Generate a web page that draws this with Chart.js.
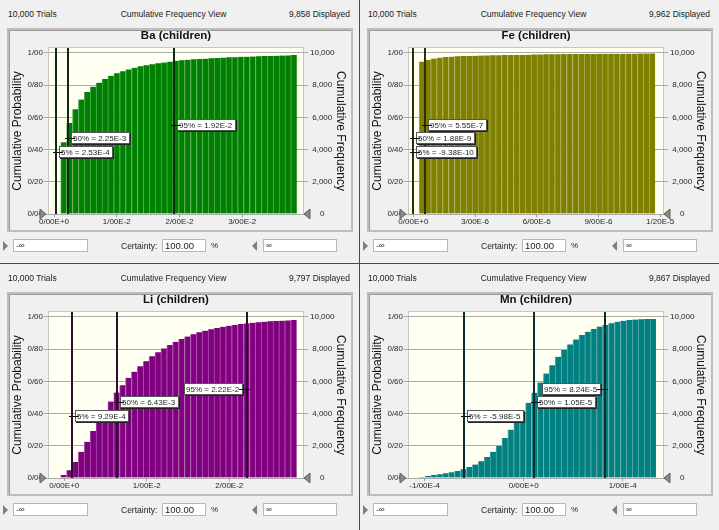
<!DOCTYPE html>
<html>
<head>
<meta charset="utf-8">
<title>Cumulative Frequency View</title>
<script src="https://cdn.jsdelivr.net/npm/chart.js@4.4.1/dist/chart.umd.min.js"></script>
<style>
  body { margin: 0; background: #4a4a4a; }
  #wrap { position: relative; width: 719px; height: 530px; overflow: hidden; background: #4a4a4a; }
  .panel { position: absolute; width: 359px; height: 263px; background: #f0f0f0;
           font-family: "Liberation Sans", Arial, sans-serif; color: #1a1a1a; }
  .panel.low { height: 266px; }
  .panel canvas { position: absolute; left: 0; top: 0; }
  .hdr { position: absolute; top: 8px; font-size: 8.5px; line-height: 12px; white-space: nowrap; }
  .hdr.l { left: 8px; }
  .hdr.c { left: 0; width: 347px; text-align: center; }
  .hdr.r { right: 9px; }
  .frame { position: absolute; left: 7px; top: 28px; width: 342px; height: 200px;
           border: 2px solid #bdbdbd; box-shadow: inset 1px 1px 0 #9a9a9a; }
  .grip { position: absolute; top: 241px; width: 0; height: 0;
          border-top: 5px solid transparent; border-bottom: 5px solid transparent; }
  .grip.l { left: 3px; border-left: 5px solid #7f7f7f; }
  .grip.r { left: 252px; border-right: 5px solid #7f7f7f; }
  .inp { position: absolute; top: 239px; height: 11px; background: #fff; border: 1px solid #b8b8b8;
         font-size: 8px; line-height: 11px; padding-left: 2px; white-space: nowrap; }
  .inp.a { left: 13px; width: 71px; }
  .inp.b { left: 162px; width: 40px; font-size: 9.5px; }
  .inp.c { left: 263px; width: 70px; }
  .txt { position: absolute; top: 240px; font-size: 8.5px; line-height: 12px; }
  .txt.cert { left: 121px; }
  .txt.pct { left: 211px; font-size: 8px; }
</style>
</head>
<body>
<div id="wrap"></div>
<script>
// shared axis ticks
const trialsLabel = '10,000 Trials';
const viewLabel = 'Cumulative Frequency View';
const trials = 10000;
const probTicks = [0, 0.2, 0.4, 0.6, 0.8, 1];
const probTickLabels = ['0/00', '0/20', '0/40', '0/60', '0/80', '1/00'];
const freqTicks = [0, 2000, 4000, 6000, 8000, 10000];
const freqTickLabels = ['0', '2,000', '4,000', '6,000', '8,000', '10,000'];
const pctNames = ['5%', '50%', '95%'];

// Ba (children)
const baDisplayed = '9,858';
const baBinStart = 0.00107;
const baBinWidth = 0.000941;
const baCumProb = [0.445, 0.565, 0.650, 0.710, 0.757, 0.790, 0.815, 0.838, 0.858, 0.873,
                   0.886, 0.897, 0.907, 0.916, 0.923, 0.929, 0.935, 0.940, 0.945, 0.951,
                   0.954, 0.957, 0.960, 0.962, 0.964, 0.966, 0.968, 0.970, 0.972, 0.973,
                   0.975, 0.976, 0.977, 0.979, 0.980, 0.981, 0.982, 0.983, 0.984, 0.9858];
const baXRange = [-0.0008, 0.0397];
const baXTicks = [0, 0.01, 0.02, 0.03];
const baXTickLabels = ['0/00E+0', '1/00E-2', '2/00E-2', '3/00E-2'];
const baPctValues = [2.53e-4, 2.25e-3, 1.92e-2];
const baPctLabels = ['2.53E-4', '2.25E-3', '1.92E-2'];

// Fe (children)
const feDisplayed = '9,962';
const feBinStart = 2.77e-7;
const feBinWidth = 2.87e-7;
const feCumProb = [0.945, 0.956, 0.965, 0.970, 0.974, 0.976, 0.979, 0.980, 0.981, 0.982,
                   0.983, 0.984, 0.985, 0.985, 0.986, 0.986, 0.987, 0.987, 0.988, 0.990,
                   0.990, 0.991, 0.991, 0.991, 0.992, 0.992, 0.992, 0.993, 0.993, 0.993,
                   0.994, 0.994, 0.994, 0.994, 0.995, 0.995, 0.995, 0.996, 0.996, 0.9962];
const feXRange = [-2.1e-7, 1.214e-5];
const feXTicks = [0, 3e-6, 6e-6, 9e-6, 1.2e-5];
const feXTickLabels = ['0/00E+0', '3/00E-6', '6/00E-6', '9/00E-6', '1/20E-5'];
const fePctValues = [-9.38e-10, 1.88e-9, 5.55e-7];
const fePctLabels = ['-9.38E-10', '1.88E-9', '5.55E-7'];

// Li (children)
const liDisplayed = '9,797';
const liBinStart = -0.00044;
const liBinWidth = 0.000715;
const liCumProb = [0.018, 0.048, 0.100, 0.163, 0.225, 0.292, 0.355, 0.416, 0.474, 0.530,
                   0.575, 0.622, 0.660, 0.694, 0.725, 0.755, 0.780, 0.804, 0.826, 0.845,
                   0.862, 0.878, 0.892, 0.904, 0.914, 0.923, 0.931, 0.938, 0.944, 0.950,
                   0.955, 0.959, 0.963, 0.966, 0.969, 0.972, 0.974, 0.976, 0.978, 0.9797];
const liXRange = [-0.00185, 0.02893];
const liXTicks = [0, 0.01, 0.02];
const liXTickLabels = ['0/00E+0', '1/00E-2', '2/00E-2'];
const liPctValues = [9.29e-4, 6.43e-3, 2.22e-2];
const liPctLabels = ['9.29E-4', '6.43E-3', '2.22E-2'];

// Mn (children)
const mnDisplayed = '9,867';
const mnBinStart = -1.057e-4;
const mnBinWidth = 5.98e-6;
const mnCumProb = [0.006, 0.0125, 0.019, 0.023, 0.029, 0.035, 0.044, 0.054, 0.069, 0.083,
                   0.104, 0.131, 0.163, 0.198, 0.248, 0.300, 0.350, 0.408, 0.467, 0.529,
                   0.592, 0.648, 0.700, 0.752, 0.794, 0.829, 0.860, 0.888, 0.908, 0.925,
                   0.940, 0.950, 0.960, 0.969, 0.975, 0.980, 0.983, 0.985, 0.986, 0.9867];
const mnXRange = [-1.158e-4, 1.406e-4];
const mnXTicks = [-1e-4, 0, 1e-4];
const mnXTickLabels = ['-1/00E-4', '0/00E+0', '1/00E-4'];
const mnPctValues = [-5.98e-5, 1.05e-5, 8.24e-5];
const mnPctLabels = ['-5.98E-5', '1.05E-5', '8.24E-5'];

const FONT = '"Liberation Sans", Arial, sans-serif';
Chart.defaults.font.family = FONT;
Chart.defaults.color = '#262626';

// cream plot area, percentile lines with their labels, certainty grabbers
const cfViewPlugin = {
    id: 'cfView',
    beforeDraw(chart) {
        const { ctx, chartArea: a } = chart;
        ctx.save();
        ctx.fillStyle = '#fffff2';
        ctx.fillRect(a.left, a.top, a.right - a.left, a.bottom - a.top);
        ctx.strokeStyle = '#c6c6c6';
        ctx.lineWidth = 1;
        ctx.strokeRect(a.left - 0.5, a.top - 0.5, a.right - a.left + 1, a.bottom - a.top + 1);
        ctx.restore();
    },
    afterDatasetsDraw(chart, args, opts) {
        const { ctx, chartArea: a, scales } = chart;
        ctx.save();
        ctx.strokeStyle = opts.lineColor;
        ctx.lineWidth = 2;
        opts.values.forEach(v => {
            const px = Math.round(scales.x.getPixelForValue(v));
            ctx.beginPath();
            ctx.moveTo(px, a.top);
            ctx.lineTo(px, a.bottom);
            ctx.stroke();
        });

        ctx.font = '8px ' + FONT;
        ctx.textBaseline = 'middle';
        ctx.lineWidth = 1;
        opts.values.forEach((v, i) => {
            const px = Math.round(scales.x.getPixelForValue(v));
            const py = Math.round(scales.y.getPixelForValue(opts.levels[i]));
            const text = pctNames[i] + ' = ' + opts.labels[i];
            const w = Math.ceil(ctx.measureText(text).width) + 5;
            const h = 12;
            let bx = px + 3;
            let t0 = px - 3, t1 = bx + 4;
            if (bx + w > a.right - 2) {
                bx = px - 4 - w;
                t0 = bx + w - 4;
                t1 = px + 3;
            }
            const by = py - h / 2;
            ctx.fillStyle = '#ffffff';
            ctx.fillRect(bx, by, w, h);
            ctx.strokeStyle = '#555';
            ctx.strokeRect(bx + 0.5, by + 0.5, w - 1, h - 1);
            ctx.strokeStyle = '#222';
            ctx.beginPath();
            ctx.moveTo(bx + w + 0.5, by + 1);
            ctx.lineTo(bx + w + 0.5, by + h + 0.5);
            ctx.lineTo(bx + 1, by + h + 0.5);
            ctx.stroke();
            ctx.fillStyle = '#1e1e1e';
            ctx.fillText(text, bx + 2, py + 0.5);
            ctx.strokeStyle = '#111';
            ctx.beginPath();
            ctx.moveTo(t0, py + 0.5);
            ctx.lineTo(t1, py + 0.5);
            ctx.stroke();
        });
        ctx.restore();
    },
    afterDraw(chart) {
        const { ctx, chartArea: a } = chart;
        ctx.save();
        ctx.fillStyle = '#8a8a8a';
        ctx.strokeStyle = '#5e5e5e';
        ctx.lineWidth = 1;
        ctx.beginPath();
        ctx.moveTo(a.left - 9, a.bottom - 5);
        ctx.lineTo(a.left - 3, a.bottom);
        ctx.lineTo(a.left - 9, a.bottom + 5);
        ctx.closePath();
        ctx.fill();
        ctx.stroke();
        ctx.beginPath();
        ctx.moveTo(a.right + 7, a.bottom - 5);
        ctx.lineTo(a.right + 1, a.bottom);
        ctx.lineTo(a.right + 7, a.bottom + 5);
        ctx.closePath();
        ctx.fill();
        ctx.stroke();
        ctx.restore();
    }
};

function addPanel(canvasId, left, top, displayed) {
    const div = document.createElement('div');
    div.className = top > 0 ? 'panel low' : 'panel';
    div.style.left = left + 'px';
    div.style.top = top + 'px';
    div.innerHTML = `
        <div class="hdr l">${trialsLabel}</div>
        <div class="hdr c">${viewLabel}</div>
        <div class="hdr r">${displayed} Displayed</div>
        <div class="frame"></div>
        <canvas id="${canvasId}" width="359" height="263"></canvas>
        <div class="grip l"></div><div class="inp a">-\u221e</div>
        <div class="txt cert">Certainty:</div><div class="inp b">100.00</div><div class="txt pct">%</div>
        <div class="grip r"></div><div class="inp c">\u221e</div>`;
    document.getElementById('wrap').appendChild(div);
}

function renderCumChart(canvasId, o) {
    const points = o.cumProb.map((p, i) => ({ x: o.binStart + (i + 0.5) * o.binWidth, y: p }));
    const yMax = 1.03;
    new Chart(document.getElementById(canvasId).getContext('2d'), {
        type: 'bar',
        data: {
            datasets: [{
                data: points,
                backgroundColor: o.color,
                borderColor: o.edgeColor,
                borderWidth: { left: 1, right: 0, top: 0, bottom: 0 },
                borderSkipped: false,
                barPercentage: 1,
                categoryPercentage: 1
            }]
        },
        options: {
            responsive: false,
            animation: false,
            devicePixelRatio: 1,
            layout: { padding: { left: 9, right: 8, top: 29, bottom: 35 } },
            plugins: {
                legend: { display: false },
                tooltip: { enabled: false },
                title: {
                    display: true,
                    text: o.title,
                    fullSize: false,
                    color: '#111',
                    font: { size: 11.5, weight: 'bold', lineHeight: 1.2 },
                    padding: { top: 0, bottom: 5.2 }
                },
                cfView: {
                    values: o.pctValues,
                    labels: o.pctLabels,
                    levels: [0.385, 0.47, 0.553],
                    lineColor: o.lineColor
                }
            },
            scales: {
                x: {
                    type: 'linear',
                    min: o.xRange[0],
                    max: o.xRange[1],
                    offset: false,
                    afterBuildTicks: s => { s.ticks = o.xTicks.map(v => ({ value: v })); },
                    afterFit: s => { s.height = 14; },
                    ticks: {
                        autoSkip: false,
                        maxRotation: 0,
                        padding: 0,
                        font: { size: 8 },
                        callback: (v, i) => o.xTickLabels[i]
                    },
                    grid: { offset: false, drawOnChartArea: false, drawTicks: true, tickLength: 3, color: '#9a9a9a' },
                    border: { display: false }
                },
                y: {
                    position: 'left',
                    min: 0,
                    max: yMax,
                    afterBuildTicks: s => { s.ticks = probTicks.map(v => ({ value: v })); },
                    afterFit: s => { s.width = 40; },
                    ticks: {
                        padding: 1,
                        font: { size: 8 },
                        callback: (v, i) => probTickLabels[i]
                    },
                    grid: { color: '#ababab', tickLength: 5 },
                    border: { display: false },
                    title: {
                        display: true,
                        text: 'Cumulative Probability',
                        color: '#111',
                        font: { size: 12, lineHeight: 1.2 },
                        padding: { top: 1, bottom: 0 }
                    }
                },
                y2: {
                    position: 'right',
                    min: 0,
                    max: yMax * trials,
                    afterBuildTicks: s => { s.ticks = freqTicks.map(v => ({ value: v })); },
                    afterFit: s => { s.width = 48; },
                    ticks: {
                        padding: 2,
                        crossAlign: 'center',
                        font: { size: 8 },
                        callback: (v, i) => freqTickLabels[i]
                    },
                    grid: { drawOnChartArea: false, color: '#ababab', tickLength: 5 },
                    border: { display: false },
                    title: {
                        display: true,
                        text: 'Cumulative Frequency',
                        color: '#111',
                        font: { size: 12, lineHeight: 1.2 },
                        padding: { top: 3, bottom: 0 }
                    }
                }
            }
        },
        plugins: [cfViewPlugin]
    });
}

addPanel('ba-chart', 0, 0, baDisplayed);
addPanel('fe-chart', 360, 0, feDisplayed);
addPanel('li-chart', 0, 264, liDisplayed);
addPanel('mn-chart', 360, 264, mnDisplayed);

renderCumChart('ba-chart', {
    title: 'Ba (children)', color: '#008000', edgeColor: '#52a852', lineColor: '#0f2a0f',
    cumProb: baCumProb, binStart: baBinStart, binWidth: baBinWidth,
    xRange: baXRange, xTicks: baXTicks, xTickLabels: baXTickLabels,
    pctValues: baPctValues, pctLabels: baPctLabels
});
renderCumChart('fe-chart', {
    title: 'Fe (children)', color: '#808000', edgeColor: '#a8a852', lineColor: '#2e2e0c',
    cumProb: feCumProb, binStart: feBinStart, binWidth: feBinWidth,
    xRange: feXRange, xTicks: feXTicks, xTickLabels: feXTickLabels,
    pctValues: fePctValues, pctLabels: fePctLabels
});
renderCumChart('li-chart', {
    title: 'Li (children)', color: '#800080', edgeColor: '#a852a8', lineColor: '#2e0c2e',
    cumProb: liCumProb, binStart: liBinStart, binWidth: liBinWidth,
    xRange: liXRange, xTicks: liXTicks, xTickLabels: liXTickLabels,
    pctValues: liPctValues, pctLabels: liPctLabels
});
renderCumChart('mn-chart', {
    title: 'Mn (children)', color: '#008080', edgeColor: '#52a8a8', lineColor: '#0c2e2e',
    cumProb: mnCumProb, binStart: mnBinStart, binWidth: mnBinWidth,
    xRange: mnXRange, xTicks: mnXTicks, xTickLabels: mnXTickLabels,
    pctValues: mnPctValues, pctLabels: mnPctLabels
});
</script>
</body>
</html>
